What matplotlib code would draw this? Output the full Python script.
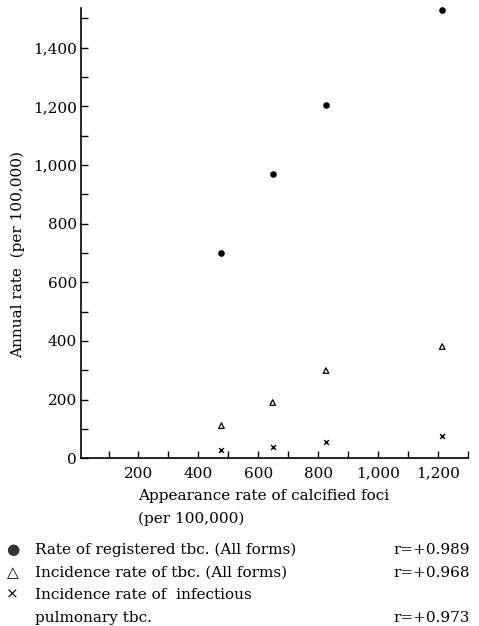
import matplotlib.pyplot as plt
from matplotlib.ticker import MultipleLocator, FuncFormatter

# Appearance rate of calcified foci (per 100,000)
calcified = [477, 648, 826, 1214]
# annual rates (per 100,000)
registered = [700, 968, 1205, 1527]
incidence = [111, 190, 299, 381]
infectious = [28, 38, 57, 76]

legend_labels = ["Rate of registered tbc. (All forms)",
                 "Incidence rate of tbc. (All forms)",
                 "Incidence rate of  infectious",
                 "pulmonary tbc."]
r_values = ["r=+0.989", "r=+0.968", "r=+0.973"]

plt.rcParams['font.family'] = ['DejaVu Serif']

fig = plt.figure(figsize=(4.79, 6.26), dpi=100)
ax = fig.add_axes([0.169, 0.268, 0.808, 0.719])

ax.scatter(calcified, registered, s=14, marker='o', color='k', clip_on=False, zorder=3)
ax.scatter(calcified, incidence, s=16, marker='^', facecolors='none', edgecolors='k',
           linewidths=0.9, clip_on=False, zorder=3)
ax.scatter(calcified, infectious, s=12, marker='x', color='k', linewidths=1.0,
           clip_on=False, zorder=3)

ax.set_xlim(8, 1300)
ax.set_ylim(0, 1535)

for s in ['top', 'right']:
    ax.spines[s].set_visible(False)
for s in ['left', 'bottom']:
    ax.spines[s].set_linewidth(1.2)

ax.xaxis.set_major_locator(MultipleLocator(200))
ax.xaxis.set_minor_locator(MultipleLocator(100))
ax.yaxis.set_major_locator(MultipleLocator(200))
ax.yaxis.set_minor_locator(MultipleLocator(100))
ax.xaxis.set_major_formatter(FuncFormatter(lambda v, p: "" if v <= 0 else "{:,}".format(int(v))))
ax.yaxis.set_major_formatter(FuncFormatter(lambda v, p: "{:,}".format(int(v))))
ax.tick_params(axis='both', which='both', direction='in', width=1.0, labelsize=11)
ax.tick_params(axis='both', which='major', length=5)
ax.tick_params(axis='both', which='minor', length=5)
ax.tick_params(axis='x', pad=6)
ax.tick_params(axis='y', pad=3)

fig.text(0.038, 0.593, "Annual rate  (per 100,000)", rotation=90, ha='center', va='center', fontsize=11)
fig.text(0.288, 0.208, "Appearance rate of calcified foci", ha='left', va='center', fontsize=11)
fig.text(0.288, 0.172, "(per 100,000)", ha='left', va='center', fontsize=11)

rows = [0.121, 0.085, 0.050, 0.013]
fig.text(0.026, rows[0], "\u25cf", ha='center', va='center', fontsize=11, color='#333333')
fig.text(0.026, rows[1], "\u25b3", ha='center', va='center', fontsize=11)
fig.text(0.026, rows[2], "\u00d7", ha='center', va='center', fontsize=11)
for y, lab in zip(rows, legend_labels):
    fig.text(0.073, y, lab, ha='left', va='center', fontsize=11)
for y, rv in zip([rows[0], rows[1], rows[3]], r_values):
    fig.text(0.822, y, rv, ha='left', va='center', fontsize=11)

fig.savefig("out.png", dpi=100)
